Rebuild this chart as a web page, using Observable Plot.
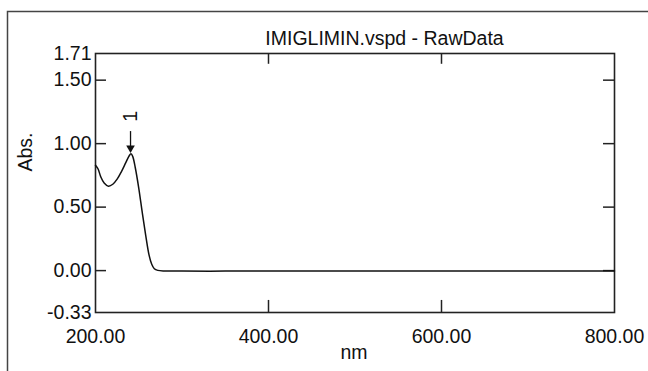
<!DOCTYPE html>
<html>
<head>
<meta charset="utf-8">
<script src="https://cdn.jsdelivr.net/npm/d3@7"></script>
<script src="https://cdn.jsdelivr.net/npm/@observablehq/plot@0.6"></script>
<style>
  html, body { margin: 0; padding: 0; background: #fff; }
  svg { display: block; }
</style>
</head>
<body>
<div id="chart"></div>
<script>
// Spectrum data
const wavelengths = [200, 203, 206, 210, 215, 220, 225, 230, 235, 239, 241, 243, 246, 250, 254, 258, 262, 265, 268, 272, 280, 300, 350, 400, 500, 600, 700, 800];
const absorbance  = [0.83, 0.80, 0.74, 0.69, 0.665, 0.68, 0.72, 0.78, 0.85, 0.905, 0.92, 0.90, 0.81, 0.65, 0.46, 0.28, 0.12, 0.05, 0.015, 0.002, -0.003, -0.004, -0.004, -0.003, -0.003, -0.003, -0.003, -0.003];

const xTickValues = [200, 400, 600, 800];
const xTickLabels = ["200.00", "400.00", "600.00", "800.00"];
const yTickValues = [-0.33, 0.00, 0.50, 1.00, 1.50, 1.71];
const yTickLabels = ["-0.33", "0.00", "0.50", "1.00", "1.50", "1.71"];
const xInnerTicks = [400, 600];
const yInnerTicks = [0.00, 0.50, 1.00, 1.50];

const peakLabel = "1";
const peakX = 240.5;
const peakY = 0.92;

const titleText = "IMIGLIMIN.vspd - RawData";
const xLabel = "nm";
const yLabel = "Abs.";

const data = wavelengths.map((w, i) => ({w, a: absorbance[i]}));

const FS = 19.5;
const ink = "#222";

const chart = Plot.plot({
  width: 648,
  height: 371,
  marginLeft: 95,
  marginRight: 34,
  marginTop: 53,
  marginBottom: 59,
  style: {fontFamily: "'Liberation Sans', Arial, sans-serif", fontSize: FS + "px", color: "#111", background: "#fff"},
  x: {domain: [200, 800], label: null},
  y: {domain: [-0.33, 1.71], label: null},
  marks: [
    // outer figure frame (cropped on the right and bottom)
    Plot.frame({stroke: "#444", strokeWidth: 1.5, insetLeft: -88, insetTop: -42, insetRight: -100, insetBottom: -100}),
    Plot.axisX(xTickValues, {tickSize: 0, tickPadding: 17, label: null, tickFormat: (d, i) => xTickLabels[i], fontSize: FS, fill: "#111"}),
    Plot.axisY(yTickValues, {tickSize: 0, tickPadding: 4, label: null, tickFormat: (d, i) => yTickLabels[i], fontSize: FS, fill: "#111"}),
    // inward ticks
    Plot.ruleY(yInnerTicks, {y: d => d, x1: 200, x2: 212.7, stroke: ink, strokeWidth: 1.5}),
    Plot.ruleY(yInnerTicks, {y: d => d, x1: 787.3, x2: 800, stroke: ink, strokeWidth: 1.5}),
    Plot.ruleX(xInnerTicks, {x: d => d, y1: -0.33, y2: -0.235, stroke: ink, strokeWidth: 1.5}),
    Plot.ruleX(xInnerTicks, {x: d => d, y1: 1.71, y2: 1.625, stroke: ink, strokeWidth: 1.5}),
    Plot.frame({stroke: ink, strokeWidth: 1.6}),
    Plot.line(data, {x: "w", y: "a", curve: "catmull-rom", stroke: "#111", strokeWidth: 1.5}),
    // peak marker
    Plot.ruleX([peakX], {x: d => d, y1: 1.095, y2: peakY + 0.03, stroke: "#111", strokeWidth: 1.3}),
    Plot.dot([peakX], {x: d => d, y: peakY + 0.045, symbol: "triangle", rotate: 180, r: 3.2, fill: "#111", stroke: "none"}),
    Plot.text([peakLabel], {x: peakX, y: 1.215, text: d => d, rotate: -90, fontSize: FS, fill: "#111"}),
    // titles
    Plot.text([titleText], {frameAnchor: "top", dx: 29.5, dy: -22.5, text: d => d, fontSize: FS, fill: "#111"}),
    Plot.text([xLabel], {frameAnchor: "bottom", dx: -1, dy: 46.8, text: d => d, fontSize: FS, fill: "#111"}),
    Plot.text([yLabel], {frameAnchor: "left", dx: -69.5, dy: -11.5, rotate: -90, text: d => d, fontSize: FS, fill: "#111"})
  ]
});

document.getElementById("chart").appendChild(chart);
</script>
</body>
</html>
